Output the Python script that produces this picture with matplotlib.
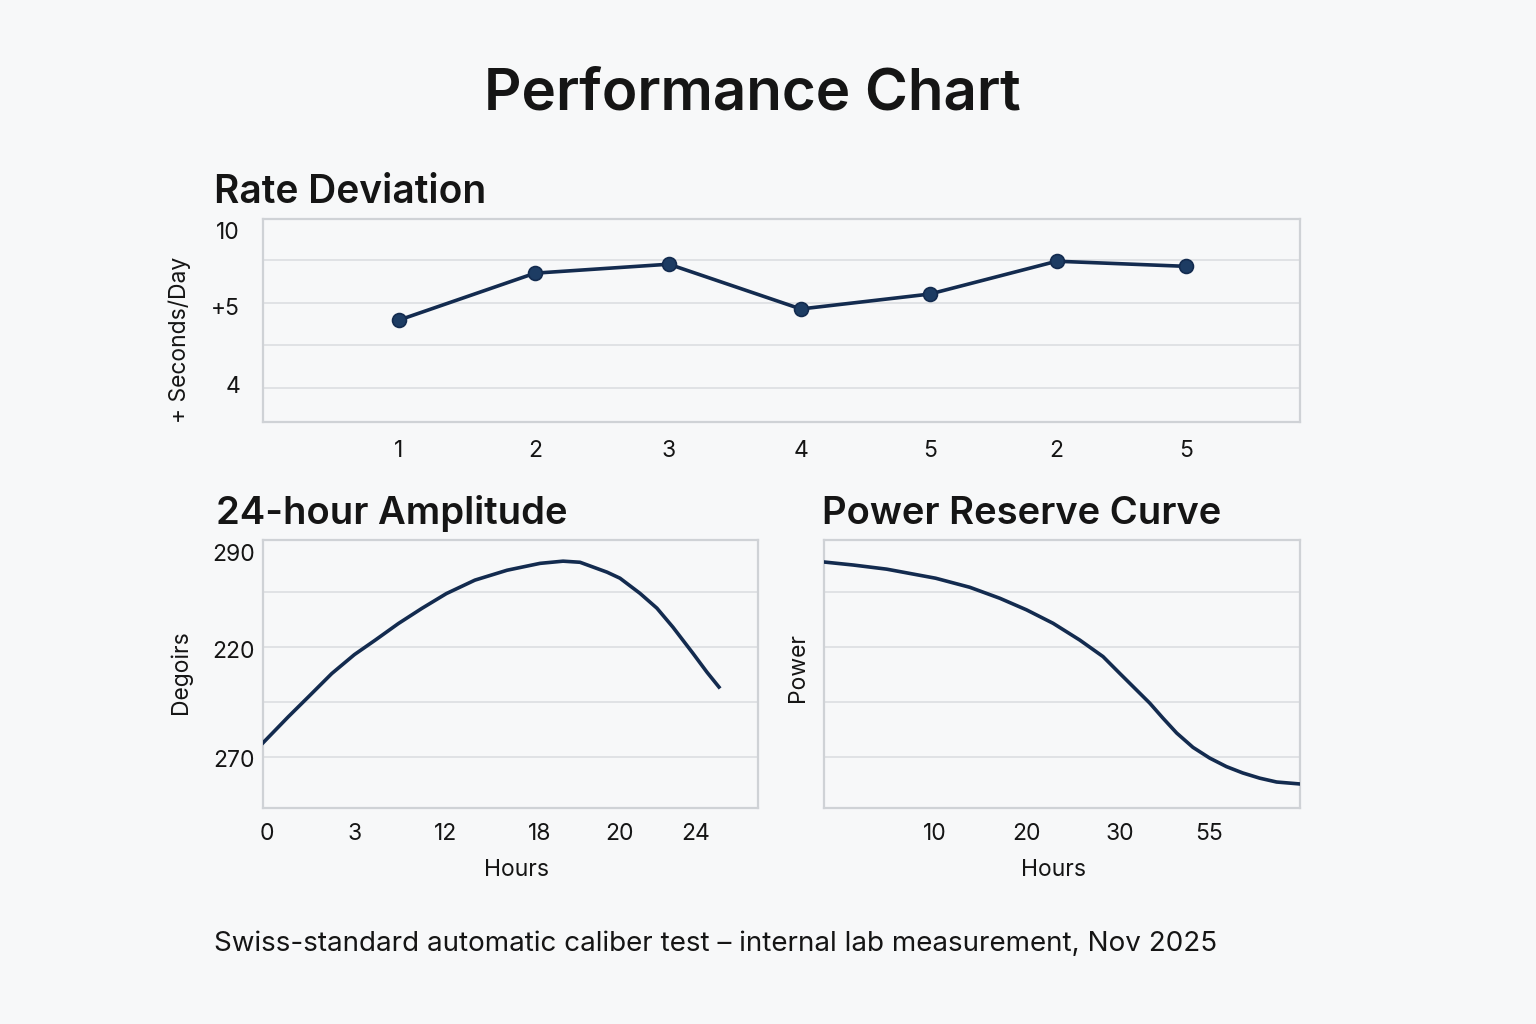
import matplotlib.pyplot as plt
from matplotlib.ticker import FixedLocator

plt.rcParams['font.family'] = ['Inter', 'DejaVu Sans']

BG = '#f7f8f9'
NAVY = '#132b4f'
SPINE = '#cfd2d6'
GRID = '#dcdee2'
INK = '#151515'

# Rate deviation (seconds/day), 7 readings
rate_pos = [1, 2.037, 3.058, 4.064, 5.047, 6.015, 7.0]
rate_labels = ['1', '2', '3', '4', '5', '2', '5']
rate_vals = [5.59, 6.69, 6.90, 5.85, 6.20, 6.97, 6.85]
rate_ytick_pos = [4.09, 5.90, 7.68]
rate_ytick_labels = ['4', '+5', '10']
rate_grid_y = [4, 5, 6, 7]

# 24-hour amplitude (degrees)
amp_hours = [0.0, 1.33, 2.38, 3.61, 4.80, 5.88, 7.11, 8.34, 9.63, 11.13,
             12.82, 14.55, 15.76, 16.65, 18.07, 18.75, 19.80, 20.69, 21.53,
             22.58, 23.32, 23.95]
amp_deg = [225.2, 234.7, 241.9, 250.4, 257.3, 262.5, 268.6, 274.1, 279.5,
           284.4, 288.0, 290.5, 291.3, 290.9, 287.3, 285.1, 279.6, 274.2,
           267.3, 257.8, 250.9, 245.5]
amp_xtick_pos = [0.2, 4.8, 9.6, 14.55, 18.75, 22.74]
amp_xtick_labels = ['0', '3', '12', '18', '20', '24']
amp_ytick_pos = [294.5, 259.0, 219.6]
amp_ytick_labels = ['290', '220', '270']

# Power reserve curve
pr_hours = [0.0, 3.17, 6.78, 12.08, 15.78, 19.03, 21.91, 24.79, 27.68,
            30.19, 32.0, 33.44, 35.24, 36.68, 38.16, 39.92, 41.73, 43.54,
            45.30, 47.14, 48.97, 51.46]
pr_power = [90.9, 89.8, 88.3, 85.0, 81.7, 77.7, 73.5, 68.6, 62.5, 56.5,
            50.4, 45.6, 39.6, 34.1, 28.7, 23.5, 19.6, 16.5, 14.2, 12.3,
            10.9, 10.2]
pr_xtick_pos = [12.0, 21.9, 32.0, 41.7]
pr_xtick_labels = ['10', '20', '30', '55']

grid_y = [220, 240, 260, 280]

fig = plt.figure(figsize=(15.36, 10.24), dpi=100, facecolor=BG)


def style(ax):
    ax.set_facecolor(BG)
    for s in ax.spines.values():
        s.set_color(SPINE)
        s.set_linewidth(1.6)
    ax.grid(which='minor', color=GRID, linewidth=1.2)
    ax.grid(which='major', visible=False)
    ax.tick_params(which='both', length=0, labelsize=16.5, colors=INK)
    ax.set_axisbelow(True)


# top: rate deviation
ax1 = fig.add_axes([263 / 1536, 1 - 422 / 1024, 1037 / 1536, 203 / 1024])
style(ax1)
ax1.plot(rate_pos, rate_vals, color=NAVY, lw=2.6, marker='o', ms=10,
         mfc='#1d3c63', mec=NAVY, mew=1.2, zorder=3)
ax1.set_xlim(-0.037, 7.87)
ax1.set_ylim(3.20, 7.96)
ax1.set_xticks(rate_pos, rate_labels)
ax1.xaxis.set_minor_locator(FixedLocator(rate_pos))
ax1.set_yticks(rate_ytick_pos, rate_ytick_labels)
ax1.yaxis.set_minor_locator(FixedLocator(rate_grid_y))
ax1.tick_params(axis='x', pad=13)
ax1.tick_params(axis='y', pad=16.5)
ax1.set_ylabel('+ Seconds/Day', fontsize=16.5, color=INK, va='center',
               rotation_mode='anchor')
ax1.yaxis.set_label_coords(-0.080, 0.404)

# bottom left: amplitude
ax2 = fig.add_axes([263 / 1536, 1 - 808 / 1024, 495 / 1536, 268 / 1024])
style(ax2)
ax2.plot(amp_hours, amp_deg, color=NAVY, lw=2.6, zorder=3,
         solid_joinstyle='round')
ax2.set_xlim(0, 26)
ax2.set_ylim(201.5, 299)
ax2.set_xticks(amp_xtick_pos, amp_xtick_labels)
ax2.xaxis.set_minor_locator(FixedLocator(amp_xtick_pos[1:]))
ax2.set_yticks(amp_ytick_pos, amp_ytick_labels)
ax2.yaxis.set_minor_locator(FixedLocator(grid_y))
ax2.tick_params(axis='x', pad=11)
ax2.tick_params(axis='y', pad=6)
ax2.set_xlabel('Hours', fontsize=16.5, color=INK)
ax2.xaxis.set_label_coords(0.513, -0.19)
ax2.set_ylabel('Degoirs', fontsize=16.5, color=INK, va='center',
               rotation_mode='anchor')
ax2.yaxis.set_label_coords(-0.166, 0.507)

# bottom right: power reserve
ax3 = fig.add_axes([824 / 1536, 1 - 808 / 1024, 476 / 1536, 268 / 1024])
style(ax3)
ax3.plot(pr_hours, pr_power, color=NAVY, lw=2.6, zorder=3,
         solid_joinstyle='round')
ax3.set_xlim(0, 51.5)
ax3.set_ylim(1.45, 98.9)
ax3.set_xticks(pr_xtick_pos, pr_xtick_labels)
ax3.xaxis.set_minor_locator(FixedLocator(pr_xtick_pos))
ax3.set_yticks([])
ax3.yaxis.set_minor_locator(FixedLocator([g - 200 for g in grid_y]))
ax3.tick_params(axis='x', pad=11)
ax3.set_xlabel('Hours', fontsize=16.5, color=INK)
ax3.xaxis.set_label_coords(0.483, -0.19)
ax3.set_ylabel('Power', fontsize=16.5, color=INK, va='center',
               rotation_mode='anchor')
ax3.yaxis.set_label_coords(-0.055, 0.526)

# titles
fig.text(752 / 1536, 1 - 95 / 1024, 'Performance Chart', ha='center',
         va='center', fontsize=42, fontweight='semibold', color=INK)
fig.text(214 / 1536, 1 - 203 / 1024, 'Rate Deviation', ha='left',
         va='baseline', fontsize=28, fontweight='semibold', color=INK)
fig.text(216 / 1536, 1 - 524 / 1024, '24-hour Amplitude', ha='left',
         va='baseline', fontsize=27.5, fontweight='semibold', color=INK)
fig.text(822 / 1536, 1 - 524 / 1024, 'Power Reserve Curve', ha='left',
         va='baseline', fontsize=27.5, fontweight='semibold', color=INK)
fig.text(214 / 1536, 1 - 951 / 1024,
         'Swiss-standard automatic caliber test – internal lab measurement, Nov 2025',
         ha='left', va='baseline', fontsize=20, color=INK)

fig.savefig('out.png', dpi=100, facecolor=BG)
